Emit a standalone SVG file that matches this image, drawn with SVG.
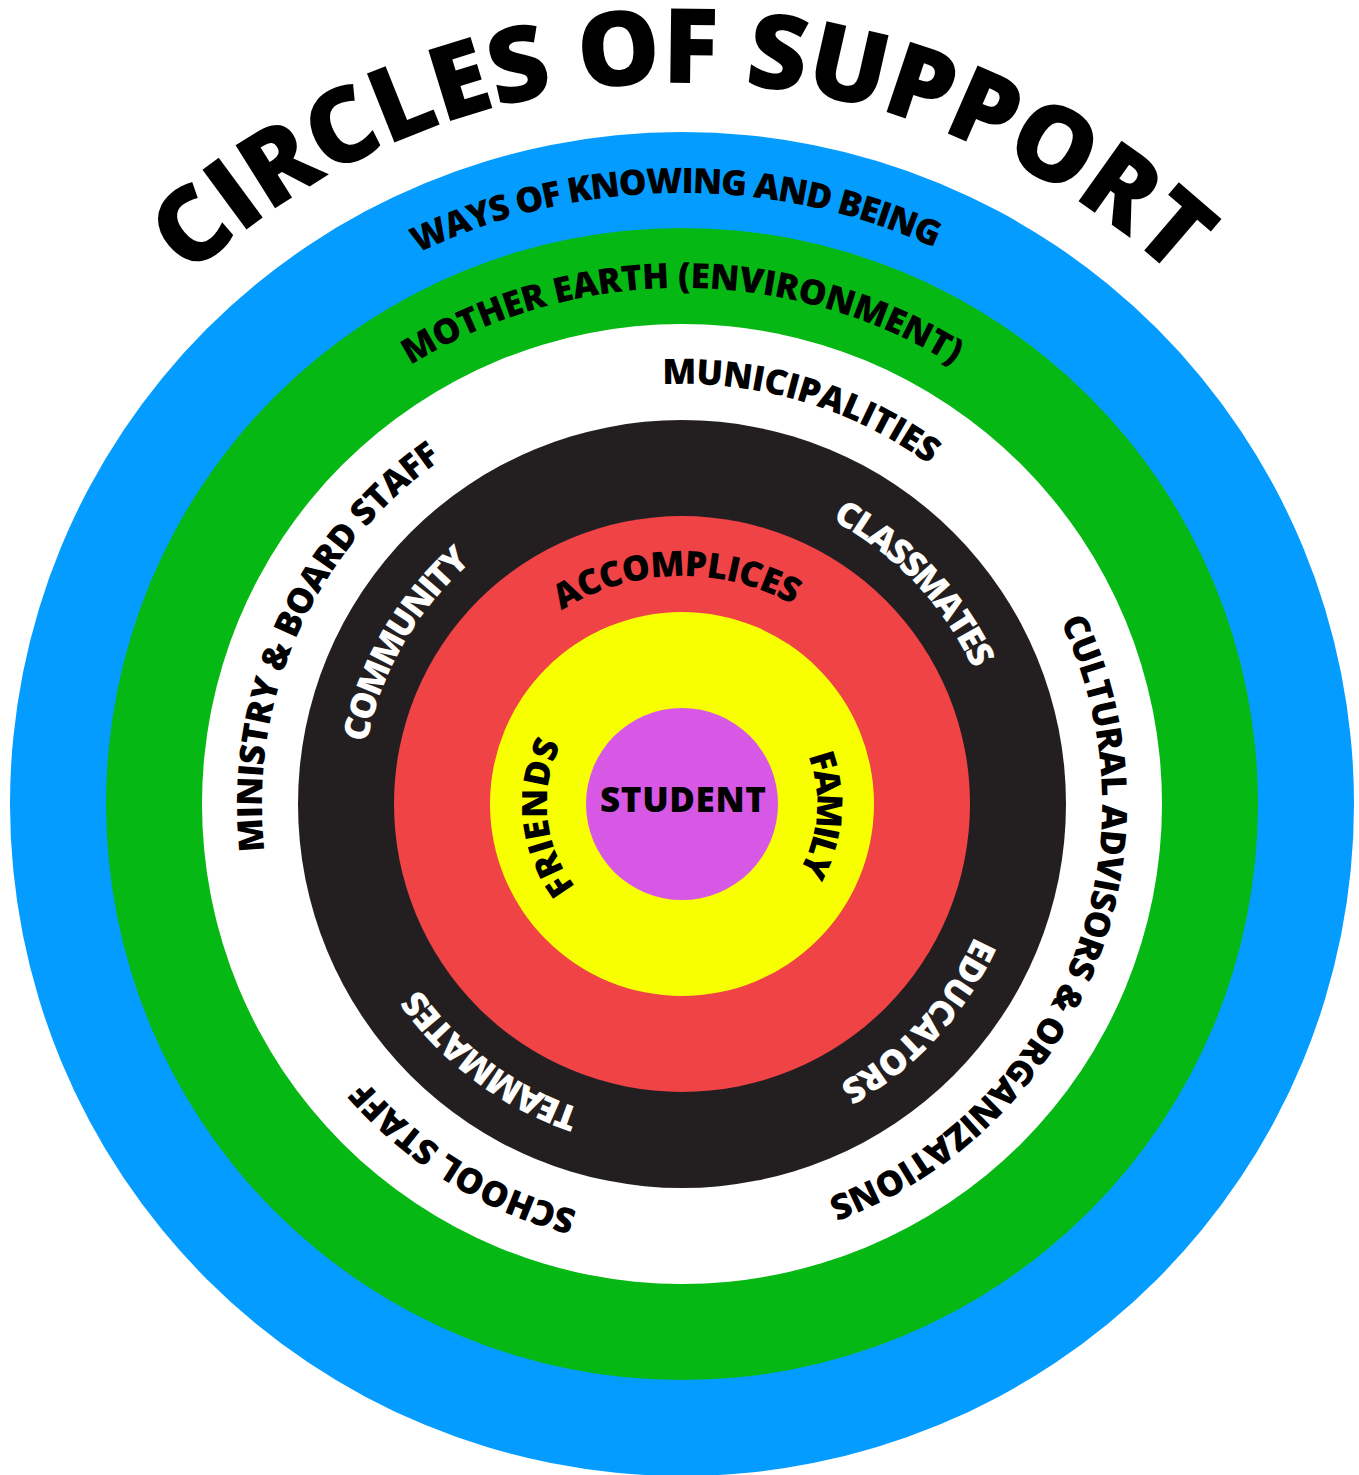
<svg xmlns="http://www.w3.org/2000/svg" xmlns:xlink="http://www.w3.org/1999/xlink" width="1359" height="1475" viewBox="0 0 1359 1475">
<style>
  .lbl { font-family: "Open Sans", "Liberation Sans", sans-serif; font-weight: 800; font-size: 35px; }
  .dark { fill: #000000; }
  .light { fill: #ffffff; }
  .title { font-family: "Open Sans", "Liberation Sans", sans-serif; font-weight: 800; font-size: 104px; fill: #000000; }
</style>
<defs>
  <path id="r721" d="M682,1525 A721,721 0 1 1 682,83 A721,721 0 1 1 682,1525"/>
  <path id="r611" d="M682,1415 A611,611 0 1 1 682,193 A611,611 0 1 1 682,1415"/>
  <path id="r516" d="M682,1320 A516,516 0 1 1 682,288 A516,516 0 1 1 682,1320"/>
  <path id="r420" d="M682,1224 A420,420 0 1 1 682,384 A420,420 0 1 1 682,1224"/>
  <path id="r321" d="M682,1125 A321,321 0 1 1 682,483 A321,321 0 1 1 682,1125"/>
  <path id="r228" d="M682,1032 A228,228 0 1 1 682,576 A228,228 0 1 1 682,1032"/>
  <path id="r135" d="M682,939 A135,135 0 1 1 682,669 A135,135 0 1 1 682,939"/>
</defs>
<rect width="1359" height="1475" fill="#ffffff"/>

<g id="title">
  <text class="title"><textPath xlink:href="#r721" href="#r721" startOffset="50%" text-anchor="middle" textLength="1085" lengthAdjust="spacing">CIRCLES OF SUPPORT</textPath></text>
</g>

<g id="ring-ways-of-knowing">
  <circle cx="682" cy="804" r="672" fill="#049cff"/>
  <g transform="rotate(-0.6 682 804)">
    <text class="lbl dark"><textPath xlink:href="#r611" href="#r611" startOffset="50%" text-anchor="middle" textLength="534" lengthAdjust="spacing">WAYS OF KNOWING AND BEING</textPath></text>
  </g>
</g>

<g id="ring-mother-earth">
  <circle cx="682" cy="804" r="576" fill="#06b814"/>
  <text class="lbl dark"><textPath xlink:href="#r516" href="#r516" startOffset="50%" text-anchor="middle" textLength="572" lengthAdjust="spacing">MOTHER EARTH (ENVIRONMENT)</textPath></text>
</g>

<g id="ring-outer-supports">
  <circle cx="682" cy="804" r="480" fill="#ffffff"/>
  <g id="municipalities" transform="rotate(16.7 682 804)">
    <text class="lbl dark"><textPath xlink:href="#r420" href="#r420" startOffset="50%" text-anchor="middle" textLength="284" lengthAdjust="spacing">MUNICIPALITIES</textPath></text>
  </g>
  <g id="cultural-advisors" transform="rotate(112 682 804)">
    <text class="lbl dark"><textPath xlink:href="#r420" href="#r420" startOffset="50%" text-anchor="middle" textLength="700" lengthAdjust="spacing">CULTURAL ADVISORS &amp; ORGANIZATIONS</textPath></text>
  </g>
  <g id="school-staff" transform="rotate(211.7 682 804)">
    <text class="lbl dark"><textPath xlink:href="#r420" href="#r420" startOffset="50%" text-anchor="middle" textLength="253" lengthAdjust="spacing">SCHOOL STAFF</textPath></text>
  </g>
  <g id="ministry-board-staff" transform="rotate(294.3 682 804)">
    <text class="lbl dark"><textPath xlink:href="#r420" href="#r420" startOffset="50%" text-anchor="middle" textLength="451" lengthAdjust="spacing">MINISTRY &amp; BOARD STAFF</textPath></text>
  </g>
</g>

<g id="ring-community">
  <circle cx="682" cy="804" r="384" fill="#231f20"/>
  <g id="classmates" transform="rotate(46.5 682 804)">
    <text class="lbl light"><textPath xlink:href="#r321" href="#r321" startOffset="50%" text-anchor="middle" textLength="209" lengthAdjust="spacing">CLASSMATES</textPath></text>
  </g>
  <g id="educators" transform="rotate(132.5 682 804)">
    <text class="lbl light"><textPath xlink:href="#r321" href="#r321" startOffset="50%" text-anchor="middle" textLength="204" lengthAdjust="spacing">EDUCATORS</textPath></text>
  </g>
  <g id="teammates" transform="rotate(216.7 682 804)">
    <text class="lbl light"><textPath xlink:href="#r321" href="#r321" startOffset="50%" text-anchor="middle" textLength="204" lengthAdjust="spacing">TEAMMATES</textPath></text>
  </g>
  <g id="community" transform="rotate(300 682 804)">
    <text class="lbl light"><textPath xlink:href="#r321" href="#r321" startOffset="50%" text-anchor="middle" textLength="213" lengthAdjust="spacing">COMMUNITY</textPath></text>
  </g>
</g>

<g id="ring-accomplices">
  <circle cx="682" cy="804" r="288" fill="#ef4346"/>
  <g transform="rotate(-1.4 682 804)">
    <text class="lbl dark"><textPath xlink:href="#r228" href="#r228" startOffset="50%" text-anchor="middle" textLength="243" lengthAdjust="spacing">ACCOMPLICES</textPath></text>
  </g>
</g>

<g id="ring-friends-family">
  <circle cx="682" cy="804" r="192" fill="#f7ff00"/>
  <g id="friends" transform="rotate(264.2 682 804)">
    <text class="lbl dark"><textPath xlink:href="#r135" href="#r135" startOffset="50%" text-anchor="middle" textLength="151" lengthAdjust="spacing">FRIENDS</textPath></text>
  </g>
  <g id="family" transform="rotate(94.6 682 804)">
    <text class="lbl dark"><textPath xlink:href="#r135" href="#r135" startOffset="50%" text-anchor="middle" textLength="120" lengthAdjust="spacing">FAMILY</textPath></text>
  </g>
</g>

<g id="student">
  <circle cx="682" cy="804" r="96" fill="#d858e6"/>
  <text class="lbl dark" x="683" y="811.7" font-size="37" text-anchor="middle" textLength="166" lengthAdjust="spacing">STUDENT</text>
</g>

<g id="connectors"/>
</svg>
